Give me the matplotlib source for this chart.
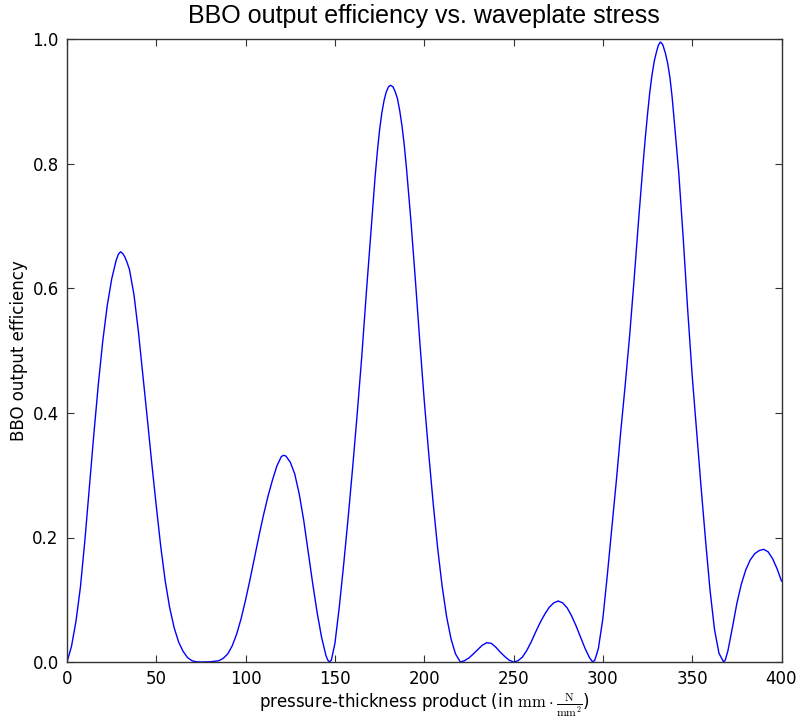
import matplotlib
matplotlib.use("Agg")
import matplotlib.pyplot as plt

# values
stress = [0, 2.5, 5, 7.5, 10, 12.5, 15, 17.5, 20, 22.5, 25, 27.5, 28.75, 30, 31.25, 32.5,
          33.75, 35, 37.5,
          40, 42.5, 45, 47.5, 50, 52.5, 55, 57.5, 60, 62.5, 65, 67.5, 70, 72.5, 75, 80,
          85, 87.5, 90, 92.5, 95, 97.5, 100, 102.5, 105, 107.5, 110, 112.5, 115, 117.5,
          120, 121.2, 122.5, 125, 127.5, 130, 132.5, 135, 137.5, 140, 142.5, 145, 146, 147,
          148, 150, 152.5, 155, 157.5, 160, 162.5, 165, 167.5, 170, 172.5, 173.75, 175,
          176.25, 177.5, 178.75, 180, 181.1, 182.5, 183.75, 185, 186.25, 187.5, 188.75,
          190, 192.5, 195, 197.5, 200, 202.5, 205, 207.5, 210,
          212.5, 215, 217.5, 220.2, 222.5, 225, 227.5, 230, 232.5, 235, 237.5, 240, 242.5,
          245, 247.5, 250, 252.5, 255, 257.5, 260, 262.5, 265, 267.5, 270, 272.5, 275,
          277.5, 280, 282.5, 285, 287.5, 290, 292.5, 294.3, 295.5, 297.5, 300, 302.5, 305,
          307.5, 310, 312.5, 315, 317.5, 320, 322.5, 323.75, 325, 326.25, 327.5, 328.75,
          330, 331.1, 332.2, 333.5, 335, 336.25, 337.5, 338.75,
          340, 342.5, 345, 347.5, 350, 352.5, 355, 357.5, 360, 362.5, 365, 367.6, 368.5,
          370, 372.5, 375, 377.5, 380, 382.5, 385, 387.5, 390, 392.5, 395, 397.5, 400]
efficiency = [0.0, 0.025, 0.065, 0.12, 0.195, 0.28, 0.365, 0.445, 0.515, 0.572, 0.615,
              0.645, 0.655, 0.659, 0.656, 0.650, 0.641, 0.630, 0.590,
              0.530, 0.460, 0.390, 0.318, 0.250, 0.185,
              0.130, 0.087, 0.055, 0.032, 0.017, 0.007, 0.002, 0.0003, 0.0, 0.0003, 0.002,
              0.006, 0.013, 0.026, 0.045, 0.070, 0.100, 0.133, 0.168, 0.203, 0.236, 0.266,
              0.292, 0.315, 0.330, 0.332, 0.331, 0.321, 0.302, 0.270, 0.228, 0.178, 0.127,
              0.080, 0.040, 0.010, 0.003, 0.0, 0.003, 0.030, 0.090, 0.160, 0.235, 0.315,
              0.400, 0.490, 0.590, 0.685, 0.780, 0.820, 0.855, 0.882, 0.902, 0.916, 0.924,
              0.9265, 0.924, 0.916, 0.905, 0.886, 0.862, 0.832,
              0.795, 0.710, 0.615, 0.515, 0.420, 0.335, 0.255, 0.183, 0.122, 0.073,
              0.037, 0.013, 0.0, 0.002, 0.0065, 0.013, 0.020, 0.027, 0.031, 0.030, 0.024,
              0.016, 0.009, 0.003, 0.0, 0.002, 0.008, 0.019, 0.033, 0.049, 0.064, 0.077,
              0.088, 0.095, 0.098, 0.095, 0.087, 0.074, 0.058, 0.040, 0.022, 0.007, 0.0,
              0.003, 0.022, 0.070, 0.140, 0.215, 0.290, 0.370, 0.445, 0.525, 0.615, 0.710,
              0.800, 0.842, 0.880, 0.915, 0.943, 0.965, 0.980, 0.991, 0.996, 0.992, 0.978,
              0.962, 0.940, 0.908, 0.868, 0.785, 0.680, 0.565,
              0.460, 0.370, 0.280, 0.195, 0.115, 0.052, 0.014, 0.0, 0.003, 0.018, 0.055,
              0.094, 0.125, 0.148, 0.164, 0.174, 0.179, 0.181, 0.177, 0.166, 0.150, 0.130]
x_ticks = [0, 50, 100, 150, 200, 250, 300, 350, 400]
y_ticks = [0.0, 0.2, 0.4, 0.6, 0.8, 1.0]

plt.rcParams['font.family'] = 'DejaVu Sans'
plt.rcParams['mathtext.fontset'] = 'cm'

fig = plt.figure(figsize=(7.99, 7.23), dpi=100)
ax = fig.add_axes([67 / 799, 61 / 723, (781.5 - 67) / 799, (662.5 - 40) / 723])
ax.plot(stress, efficiency, color='#0000ff', linewidth=1.0)
ax.set_xlim(0, 400)
ax.set_ylim(0, 1.0)
ax.set_xticks(x_ticks)
ax.set_yticks(y_ticks)
ax.set_yticklabels([f"{v:.1f}" for v in y_ticks])
ax.tick_params(direction='in', top=True, right=True, length=5, width=0.8,
               labelsize=12, color='#333333', pad=6)
for s in ax.spines.values():
    s.set_linewidth(1.0)
    s.set_color('#333333')
ax.set_title("BBO output efficiency vs. waveplate stress", fontsize=18,
             family='Liberation Sans', pad=12)
ax.set_ylabel("BBO output efficiency", fontsize=12, labelpad=3)
ax.set_xlabel(r"pressure-thickness product (in $\mathrm{mm}\cdot\frac{\mathrm{N}}{\mathrm{mm}^2}$)",
              fontsize=12, labelpad=2)
fig.savefig("out.png", dpi=100, facecolor='white')
